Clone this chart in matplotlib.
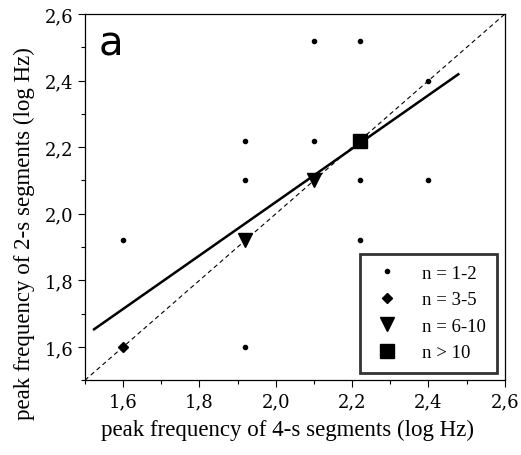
import numpy as np
import matplotlib
matplotlib.use("Agg")
import matplotlib.pyplot as plt
from matplotlib.ticker import MultipleLocator, FuncFormatter

# n = 1-2 points
small_x = [2.10, 2.22, 2.40, 1.92, 2.10, 1.92, 2.22, 2.40, 1.60, 2.22, 1.92]
small_y = [2.52, 2.52, 2.40, 2.22, 2.22, 2.10, 2.10, 2.10, 1.92, 1.92, 1.60]
# n = 3-5
dia_x = [1.60]
dia_y = [1.60]
# n = 6-10
tri_x = [1.92, 2.10]
tri_y = [1.92, 2.10]
# n > 10
sq_x = [2.22]
sq_y = [2.22]

# regression line end points
fit_x = [1.524, 2.478]
fit_y = [1.653, 2.419]

plt.rcParams['font.family'] = ['Liberation Serif', 'DejaVu Serif']

fig = plt.figure(figsize=(5.21, 4.56), dpi=100)
ax = fig.add_axes([0.163, 0.164, 0.806, 0.803])

ax.plot([1.5, 2.6], [1.5, 2.6], ls=(0, (4, 3)), color='black', lw=0.8)
ax.plot(fit_x, fit_y, color='black', lw=1.8)

ax.plot(small_x, small_y, 'o', color='black', ms=3, ls='none', label='n = 1-2')
ax.plot(dia_x, dia_y, 'D', color='black', ms=5.5, ls='none', label='n = 3-5')
ax.plot(tri_x, tri_y, 'v', color='black', ms=10, ls='none', label='n = 6-10')
ax.plot(sq_x, sq_y, 's', color='black', ms=9.5, ls='none', label='n > 10')

ax.set_xlim(1.5, 2.6)
ax.set_ylim(1.5, 2.6)
ax.xaxis.set_major_locator(MultipleLocator(0.2))
ax.xaxis.set_minor_locator(MultipleLocator(0.1))
ax.yaxis.set_major_locator(MultipleLocator(0.2))
ax.yaxis.set_minor_locator(MultipleLocator(0.1))
fmt = FuncFormatter(lambda v, p: f"{v:.1f}".replace('.', ','))
ax.xaxis.set_major_formatter(fmt)
ax.yaxis.set_major_formatter(fmt)
ax.tick_params(which='major', direction='out', length=5, width=0.8, labelsize=13)
ax.tick_params(which='minor', direction='out', length=3, width=0.8)
for lab in ax.get_xticklabels() + ax.get_yticklabels():
    lab.set_family('DejaVu Serif')
for s in ax.spines.values():
    s.set_linewidth(0.9)

ax.set_xlabel('peak frequency of 4-s segments (log Hz)', fontsize=16.5)
ax.set_ylabel('peak frequency of 2-s segments (log Hz)', fontsize=16.5)
ax.xaxis.set_label_coords(0.482, -0.105)
ax.yaxis.set_label_coords(-0.118, 0.404)

ax.text(0.033, 0.975, 'a', transform=ax.transAxes, fontsize=29,
        family='DejaVu Sans', va='top', ha='left')

leg = ax.legend(loc='lower right', fontsize=13.5, frameon=True, fancybox=False,
                edgecolor='black', borderpad=0.6, labelspacing=0.5,
                handlelength=1.6, handletextpad=1.1, borderaxespad=0.4,
                numpoints=1)
leg.get_frame().set_linewidth(2)

fig.savefig('out.png', dpi=100)
